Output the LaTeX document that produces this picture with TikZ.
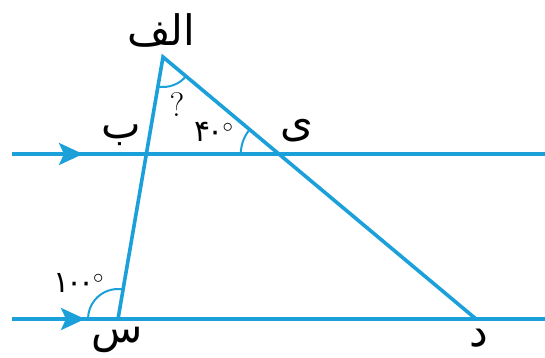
\documentclass[tikz,border=0pt]{standalone}
\usepackage{fontspec}
\newfontfamily\arabicfont[Script=Arabic]{DejaVu Sans}
\TeXXeTstate=1
\usetikzlibrary{angles,calc,arrows.meta}
\definecolor{AzulRecta}{RGB}{27,160,218}

\begin{document}
\begin{tikzpicture}[x=1pt,y=1pt,>={Stealth[length=24pt,width=22pt,inset=5pt]},
  recta/.style={AzulRecta,line width=3.6pt},
  arco/.style={draw=AzulRecta,line width=2pt},
  letra/.style={font=\arabicfont\fontsize{42}{48}\selectfont,inner sep=0pt},
  numero/.style={font=\fontsize{30}{34}\selectfont,inner sep=0pt}]
  \useasboundingbox (0,0) rectangle (545,357);

  % Rectas paralelas
  \coordinate (P1) at (12,203);
  \coordinate (P2) at (545,203);
  \coordinate (Q1) at (12,38);
  \coordinate (Q2) at (545,38);
  \coordinate (F1) at (83,203);
  \coordinate (F2) at (85,38);

  % Triangulo
  \coordinate (A) at (163,300);
  \coordinate (S) at (118,38);
  \coordinate (D) at (476,38);
  \coordinate (B) at ($(A)!0.370!(S)$);
  \coordinate (E) at ($(A)!0.370!(D)$);

  \draw[recta] (P1)--(P2);
  \draw[recta] (Q1)--(Q2);
  \draw[recta,->] (P1)--(F1);
  \draw[recta,->] (Q1)--(F2);
  \draw[recta,line join=miter] (S)--(A)--(D);

  % Angulos
  \pic[arco,angle radius=30pt] {angle=S--A--D};
  \pic[arco,angle radius=38pt] {angle=A--E--B};
  \pic[arco,angle radius=30pt] {angle=A--S--Q1};

  % Etiquetas
  \node[letra] (alef) at (161,327) {\beginR الف\endR};
  \node[letra] (be) at (121,222) {\beginR ب\endR};
  \node[letra] (ye) at (297,226) {\beginR ی\endR};
  \node[letra] (sin) at (117,17) {\beginR س\endR};
  \node[letra] (dal) at (479,19) {\beginR د\endR};
  \node[numero,font=\fontsize{34}{38}\selectfont] (pregunta) at (177,252) {?};
  \node[numero] (cuarenta) at (214,225) {{\arabicfont ۴\kern-3pt۰}\kern-1pt$^{\circ}$};
  \node[numero] (cien) at (79,74) {{\arabicfont ۱\kern-4pt۰\kern-4pt۰}\kern-1pt$^{\circ}$};
\end{tikzpicture}
\end{document}
